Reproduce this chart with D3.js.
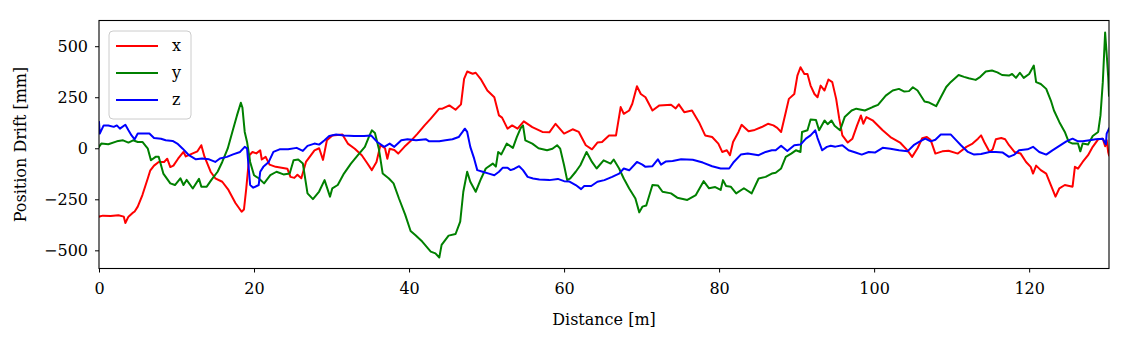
<!DOCTYPE html>
<html>
<head>
<meta charset="utf-8">
<script src="https://cdn.jsdelivr.net/npm/d3@7"></script>
<style>
  html, body { margin: 0; padding: 0; background: #fff; }
  svg { display: block; }
  text { font-family: "DejaVu Serif", "Liberation Serif", serif; fill: #000; }
</style>
</head>
<body>
<svg id="chart" width="1127" height="343"></svg>
<script>
// ---- Data (distance in m, drift in mm) ----
const seriesNames = ["x", "y", "z"];
const seriesColors = ["#ff0000", "#008000", "#0000ff"];
const xTicks = [0, 20, 40, 60, 80, 100, 120];
const yTicks = [-500, -250, 0, 250, 500];
const xAxisLabel = "Distance [m]";
const yAxisLabel = "Position Drift [mm]";

const xDist = [0,0.5,1.5,2.5,3.2,3.4,3.8,4.3,4.6,5.0,5.6,6.3,6.6,7.1,7.7,8.4,8.8,9.2,9.6,10.2,10.9,11.2,11.8,12.7,13.2,13.6,14.4,15.0,15.9,16.7,17.6,18.4,18.7,19.0,19.4,19.8,20.3,20.8,21.0,21.5,22.0,22.8,24.3,24.7,25.2,25.6,26.1,26.7,27.8,28.4,28.9,29.4,30.1,31.4,32.1,33.0,33.9,34.5,35.2,35.8,36.3,36.9,37.2,37.5,38.1,38.6,39.4,40.3,41.1,42.0,42.8,43.9,44.3,45.2,46.0,46.7,47.1,47.5,48.2,48.6,49.3,50.1,51.0,51.6,52.0,52.7,53.3,54.0,54.8,55.9,57.2,58.1,58.9,60.0,61.1,61.9,62.8,63.6,64.3,64.9,65.8,66.7,67.3,67.7,68.4,68.8,69.4,69.9,70.5,71.4,72.3,73.8,74.4,74.8,75.5,76.5,77.4,78.2,79.1,79.9,80.4,81.0,81.4,81.8,82.5,82.9,83.8,84.6,85.5,86.3,87.0,87.5,88.0,88.6,89.0,89.7,90.1,90.5,91.0,91.4,91.8,92.3,92.7,93.1,93.6,94.1,94.6,95.1,95.5,95.9,96.6,97.2,97.8,98.3,98.6,99.0,99.8,101.1,102.1,103.4,104.3,104.9,105.6,106.2,106.8,107.3,107.9,108.8,109.6,110.8,111.9,112.7,113.4,113.8,114.2,114.9,115.3,115.7,116.4,116.9,117.4,118.1,118.9,119.6,120.2,120.5,120.9,121.5,122.2,122.8,123.4,123.9,124.6,125.6,125.9,126.3,126.9,127.6,128.2,128.9,129.5,129.8,130.0,130.2,130.3];
const xVals = [-335,-330,-332,-328,-335,-366,-335,-318,-310,-286,-229,-147,-110,-85,-67,-67,-51,-92,-85,-51,-18,-40,-30,-15,15,-40,-115,-147,-164,-204,-268,-311,-300,-196,-34,-18,-25,-10,-55,-42,-80,-91,-100,-140,-145,-130,-147,-67,-10,0,-57,39,63,67,23,-2,-34,-67,-107,-67,15,0,-51,-2,-8,-26,7,39,72,112,145,194,194,210,189,215,340,376,365,370,336,283,250,161,150,96,112,96,132,104,80,78,120,72,93,80,15,-5,28,31,63,63,202,169,185,218,304,266,250,185,210,213,195,215,177,185,128,63,55,23,-18,-10,-34,31,80,115,83,90,104,120,112,100,80,177,242,266,356,397,364,364,307,266,250,307,283,337,324,242,145,63,28,47,112,161,120,153,137,88,55,26,-10,-42,0,49,55,40,-26,-15,-12,-26,7,23,47,63,31,-18,-5,44,50,44,15,-18,-26,-67,-91,-124,-85,-107,-124,-180,-237,-196,-180,-188,-91,-100,-67,-34,7,44,47,10,40,-20,-34];

const yDist = [0,0.3,1.2,2.3,3.1,3.8,4.4,5.0,5.6,6.3,6.7,7.3,7.7,8.3,9.2,9.8,10.5,10.9,11.3,12.1,12.9,13.2,13.9,14.5,15.3,15.9,16.6,17.2,17.8,18.3,18.5,18.8,19.1,19.5,20.0,20.6,21.3,22.1,22.9,23.8,24.6,25.1,25.7,26.3,26.9,27.6,28.4,29.1,29.8,30.1,30.8,31.6,32.5,33.4,34.3,34.9,35.2,35.6,36.1,36.6,37.4,38.0,38.7,39.5,40.2,40.8,41.7,42.8,43.4,43.9,44.2,45.1,46.0,46.6,47.0,47.5,47.9,48.6,49.3,49.9,50.8,51.2,51.5,51.9,52.6,53.4,53.9,54.4,54.7,55.0,55.9,56.7,57.8,58.5,59.1,59.5,60.0,60.4,60.8,61.5,62.1,62.9,63.6,64.2,65.1,66.0,66.4,67.1,67.7,68.4,69.2,69.7,70.1,70.6,71.4,72.1,72.7,73.8,74.6,75.9,77.0,78.0,78.7,79.5,80.2,80.5,80.9,81.5,82.2,83.2,84.2,85.1,86.0,86.8,87.3,88.0,88.6,89.3,89.9,90.5,90.7,91.4,91.8,92.5,92.9,93.6,94.0,94.5,94.9,95.6,96.2,97.1,97.7,98.8,99.8,100.5,101.5,102.4,103.2,103.9,104.5,105.0,105.6,106.5,107.1,108.0,108.6,109.3,109.9,110.9,111.6,112.2,113.1,113.7,114.4,115.2,115.9,116.5,117.4,117.8,118.3,118.8,119.3,120.0,120.6,120.9,121.5,122.2,122.8,123.2,123.9,124.6,125.1,125.6,126.3,126.6,126.9,127.6,128.2,128.9,129.2,129.5,129.8,130.0,130.2,130.3];
const yVals = [7,23,20,34,39,28,39,31,31,-2,-59,-42,-42,-124,-172,-180,-147,-180,-155,-197,-150,-188,-188,-155,-115,-67,-2,80,161,223,200,80,31,-67,-132,-147,-172,-132,-115,-128,-124,-59,-55,-75,-221,-249,-212,-156,-237,-196,-180,-124,-75,-34,7,63,88,75,-2,-124,-148,-172,-246,-325,-405,-425,-457,-506,-515,-535,-473,-428,-420,-359,-213,-115,-164,-213,-148,-99,-75,-90,-18,-30,23,2,55,99,112,39,23,0,-10,-2,15,-2,-83,-156,-148,-115,-83,-18,-67,-99,-59,-75,-55,-99,-148,-197,-246,-314,-286,-280,-180,-182,-213,-221,-242,-253,-229,-161,-196,-190,-204,-156,-185,-188,-221,-196,-221,-148,-140,-124,-120,-99,-42,-26,-10,-18,80,88,141,138,88,136,118,136,110,88,153,185,194,185,202,213,258,283,291,278,280,299,283,229,224,206,250,300,325,359,350,343,335,350,376,381,372,359,356,364,345,370,345,364,405,324,315,291,234,185,128,80,31,23,23,-15,23,18,60,80,161,324,567,462,347,258];

const zDist = [0,0.1,0.6,1.2,1.9,2.3,2.7,3.4,3.8,4.2,4.6,5.0,5.9,6.5,7.1,8.0,8.6,9.5,10.1,10.8,11.6,12.5,13.3,14.2,15.0,15.6,16.5,17.3,18.2,18.8,19.1,19.3,19.5,19.9,20.6,20.8,21.2,21.9,22.5,23.3,24.4,25.5,26.3,26.9,27.8,28.4,29.1,29.7,30.6,31.6,32.9,34.2,35.1,35.9,36.8,37.5,38.1,39.0,39.8,40.9,42.2,42.6,43.9,44.7,45.6,46.4,46.9,47.2,47.5,47.9,48.4,48.8,49.5,50.3,51.0,51.6,52.1,52.7,53.1,53.6,54.2,54.7,55.3,56.0,56.8,58.1,59.2,60.0,60.7,61.5,62.2,62.6,63.5,64.3,65.2,66.2,67.1,67.7,68.4,69.4,70.1,70.5,71.4,72.1,72.5,73.1,74.0,75.1,76.6,77.9,79.1,80.2,81.3,81.9,82.8,83.7,85.1,86.0,86.8,87.3,88.0,88.8,89.7,90.5,91.2,91.8,92.4,92.7,93.3,93.9,94.4,95.0,95.9,96.7,97.6,98.4,99.3,100.1,101.1,102.1,103.2,104.3,105.1,105.8,106.6,107.3,107.9,108.6,109.9,110.6,111.2,112.1,112.9,113.8,114.9,115.7,116.6,117.4,118.1,118.7,119.8,120.5,121.3,122.2,123.0,123.9,124.8,125.6,126.3,126.9,127.8,128.6,129.5,129.9,130.0,130.3];
const zVals = [128,72,112,112,105,112,96,115,88,63,44,72,72,72,50,47,39,36,23,-2,-34,-54,-50,-54,-67,-50,-42,-30,-18,7,0,-91,-180,-193,-180,-115,-91,-67,-18,-5,-5,2,-13,12,23,18,39,60,67,63,60,60,63,31,7,23,7,39,44,39,44,34,34,39,44,55,80,96,80,7,-51,-107,-115,-124,-132,-115,-95,-95,-107,-100,-88,-107,-140,-148,-153,-156,-150,-161,-163,-180,-200,-185,-185,-164,-156,-140,-124,-99,-108,-67,-80,-91,-88,-54,-80,-65,-62,-54,-56,-70,-88,-99,-99,-67,-31,-26,-34,-18,-10,-10,12,-13,15,18,47,63,88,50,-10,7,12,8,15,-10,-21,-31,-18,-21,2,-2,-10,-15,15,31,47,34,42,67,67,39,15,-18,-31,-28,-18,-18,-21,-42,-31,-10,-5,7,-18,-31,-10,12,34,47,34,34,39,44,47,20,72,96];

// ---- Chart ----
const svg = d3.select("#chart");
const pLeft = 99, pRight = 1109, pTop = 20.5, pBottom = 268.5;
const fontSize = "16px";
const x = d3.scaleLinear().domain([0, 130.3]).range([pLeft, pRight]);
const y = d3.scaleLinear().domain([-589, 626]).range([pBottom, pTop]);

const series = [
  { name: seriesNames[0], color: seriesColors[0], d: xDist, v: xVals },
  { name: seriesNames[1], color: seriesColors[1], d: yDist, v: yVals },
  { name: seriesNames[2], color: seriesColors[2], d: zDist, v: zVals }
];

svg.append("defs").append("clipPath").attr("id", "clip")
  .append("rect").attr("x", pLeft).attr("y", pTop).attr("width", pRight - pLeft).attr("height", pBottom - pTop);

const line = d3.line().x(p => x(p[0])).y(p => y(p[1]));
const g = svg.append("g").attr("clip-path", "url(#clip)");
series.forEach(s => {
  g.append("path")
    .datum(s.d.map((dv, i) => [dv, s.v[i]]))
    .attr("d", line)
    .attr("fill", "none")
    .attr("stroke", s.color)
    .attr("stroke-width", 2)
    .attr("stroke-linejoin", "round")
    .attr("stroke-linecap", "square");
});

// axes
const fmt = v => (v < 0 ? "\u2212" + Math.abs(v) : String(v));
const xAxis = svg.append("g").attr("transform", `translate(0,${pBottom})`)
  .call(d3.axisBottom(x).tickValues(xTicks).tickFormat(fmt).tickSize(4).tickPadding(7).tickSizeOuter(0));
const yAxis = svg.append("g").attr("transform", `translate(${pLeft},0)`)
  .call(d3.axisLeft(y).tickValues(yTicks).tickFormat(fmt).tickSize(4).tickPadding(7).tickSizeOuter(0));
[xAxis, yAxis].forEach(a => {
  a.select(".domain").remove();
  a.selectAll(".tick line").attr("stroke", "#000").attr("stroke-width", 1);
  a.selectAll(".tick text").style("font-family", "'DejaVu Serif', serif").style("font-size", fontSize).attr("fill", "#000");
});
xAxis.selectAll(".tick text").attr("dy", "0.92em");

// frame
svg.append("rect").attr("x", pLeft).attr("y", pTop).attr("width", pRight - pLeft).attr("height", pBottom - pTop)
  .attr("fill", "none").attr("stroke", "#000").attr("stroke-width", 1.1);

// axis labels
svg.append("text").attr("x", (pLeft + pRight) / 2).attr("y", 325).attr("text-anchor", "middle")
  .style("font-size", fontSize).text(xAxisLabel);
svg.append("text").attr("transform", `translate(26,${(pTop + pBottom) / 2}) rotate(-90)`).attr("text-anchor", "middle")
  .style("font-size", fontSize).text(yAxisLabel);

// legend
const lg = svg.append("g");
lg.append("rect").attr("x", 109).attr("y", 31).attr("width", 82).attr("height", 88).attr("rx", 4)
  .attr("fill", "#fff").attr("fill-opacity", 0.8).attr("stroke", "#cccccc").attr("stroke-width", 1);
series.forEach((s, i) => {
  const ly = 46 + i * 27;
  lg.append("line").attr("x1", 116).attr("x2", 158).attr("y1", ly).attr("y2", ly)
    .attr("stroke", s.color).attr("stroke-width", 2);
  lg.append("text").attr("x", 172).attr("y", ly + 5).style("font-size", fontSize).text(s.name);
});
</script>
</body>
</html>
